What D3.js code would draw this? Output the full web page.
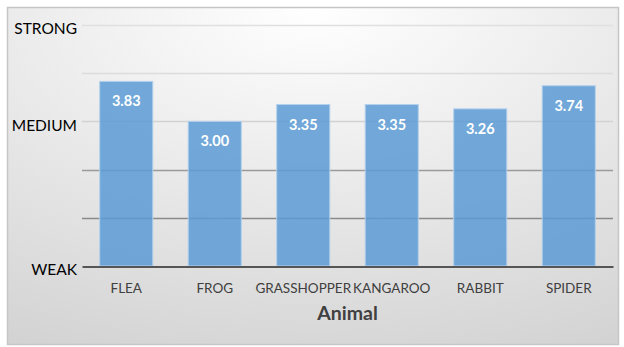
<!DOCTYPE html>
<html>
<head>
<meta charset="utf-8">
<script src="https://cdn.jsdelivr.net/npm/d3@7"></script>
<style>
  html, body { margin: 0; padding: 0; background: #ffffff; }
  svg { display: block; }
  text { font-family: Lato, "Open Sans", sans-serif; }
</style>
</head>
<body>
<svg id="chart" width="624" height="347"></svg>
<script>
// Jump strength rating per animal
const animals = ["FLEA", "FROG", "GRASSHOPPER", "KANGAROO", "RABBIT", "SPIDER"];
const strength = [3.83, 3.00, 3.35, 3.35, 3.26, 3.74];
const tickValues = [0, 1, 2, 3, 4, 5];
const tickNames = { 0: "WEAK", 3: "MEDIUM", 5: "STRONG" };
const gridColors = ["#555555", "#8a8a8a", "#9a9a9a", "#d2d2d2", "#dcdcdc", "#e0e0e0"];
const xTitle = "Animal";

const W = 624, H = 347;
const margin = { top: 25, right: 11, bottom: 81, left: 82 };
const svg = d3.select("#chart");

// background panel with a soft gradient
const defs = svg.append("defs");
const grad = defs.append("radialGradient")
  .attr("id", "bg").attr("cx", "50%").attr("cy", "0%").attr("r", "110%")
  .attr("fx", "50%").attr("fy", "0%");
grad.append("stop").attr("offset", "0%").attr("stop-color", "#ffffff");
grad.append("stop").attr("offset", "100%").attr("stop-color", "#d3d3d3");

svg.append("rect")
  .attr("x", 7.5).attr("y", 7.5).attr("width", 611).attr("height", 337)
  .attr("fill", "url(#bg)").attr("stroke", "#c6c6c6").attr("stroke-width", 1.5);

const x = d3.scaleBand().domain(animals)
  .range([margin.left, W - margin.right]).paddingInner(0.4).paddingOuter(0.2);
const y = d3.scaleLinear().domain([0, 5]).range([H - margin.bottom, margin.top]);

// gridlines
svg.append("g").selectAll("line")
  .data(tickValues.filter(v => v > 0))
  .join("line")
  .attr("x1", margin.left).attr("x2", W - margin.right)
  .attr("y1", d => Math.round(y(d)) + 0.5).attr("y2", d => Math.round(y(d)) + 0.5)
  .attr("stroke", d => gridColors[d]).attr("stroke-width", 1.5);

// bars
svg.append("g").selectAll("rect")
  .data(animals)
  .join("rect")
  .attr("x", d => x(d))
  .attr("width", x.bandwidth())
  .attr("y", (d, i) => y(strength[i]))
  .attr("height", (d, i) => y(0) - y(strength[i]))
  .attr("fill", "#5b9bd5").attr("fill-opacity", 0.85)
  .attr("stroke", "#b4d0ec").attr("stroke-width", 1);

// value labels
svg.append("g").selectAll("text")
  .data(animals)
  .join("text")
  .attr("x", d => x(d) + x.bandwidth() / 2)
  .attr("y", (d, i) => y(strength[i]) + 25)
  .attr("text-anchor", "middle")
  .attr("fill", "#ffffff")
  .attr("font-weight", "bold")
  .attr("font-size", 14.5)
  .text((d, i) => strength[i].toFixed(2));

// baseline axis
const xAxis = svg.append("g")
  .attr("transform", `translate(0,${Math.round(y(0)) + 0.5})`)
  .call(d3.axisBottom(x).tickSize(0).tickPadding(17));
xAxis.select(".domain").attr("stroke", "#555555").attr("stroke-width", 1.8);
xAxis.selectAll("text")
  .attr("font-size", 13.5).attr("fill", "#404040")
  .style("font-family", "Lato, 'Open Sans', sans-serif");

// y axis labels (sit slightly below their gridline)
const yAxis = svg.append("g")
  .attr("transform", `translate(${margin.left - 5},4)`)
  .call(d3.axisLeft(y).tickValues(tickValues.filter(v => tickNames[v]))
    .tickFormat(v => tickNames[v]).tickSize(0).tickPadding(0));
yAxis.select(".domain").remove();
yAxis.selectAll("text")
  .attr("font-size", 15.5).attr("fill", "#000000")
  .style("font-family", "Lato, 'Open Sans', sans-serif");

// axis title
svg.append("text")
  .attr("x", (margin.left + W - margin.right) / 2)
  .attr("y", 320)
  .attr("text-anchor", "middle")
  .attr("font-size", 19.5).attr("font-weight", "bold").attr("fill", "#404040")
  .text(xTitle);
</script>
</body>
</html>
